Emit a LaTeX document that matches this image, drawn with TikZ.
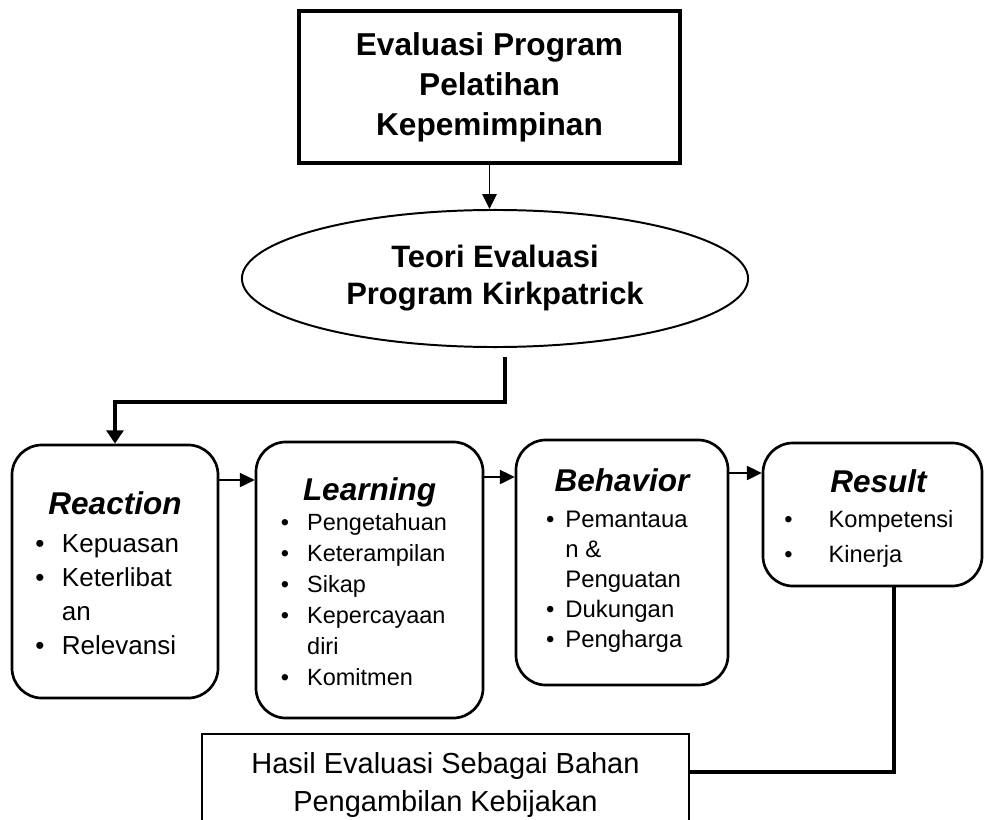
\documentclass[tikz,border=0pt]{standalone}
\usepackage{fontspec}
\setmainfont{Liberation Sans}
\usetikzlibrary{arrows.meta, shapes.geometric, positioning, calc}
\newcommand{\lvltitle}[1]{{\fontsize{22.4}{26}\selectfont\bfseries\itshape #1}}
\tikzset{
  % Thick frame for the programme
  TopB/.style={rectangle,draw,line width=3.4pt,minimum width=9.525cm,
               minimum height=3.8cm,align=center,
               font=\fontsize{22.5}{28.5}\selectfont\bfseries},
  % Theory ellipse
  ThE/.style={ellipse,draw,line width=1.4pt,minimum width=12.65cm,
              minimum height=3.425cm,inner sep=0pt,align=center,
              font=\fontsize{22}{26.3}\selectfont\bfseries},
  % Rounded level box
  LB/.style 2 args={rectangle,rounded corners=0.75cm,draw,line width=1.9pt,
                    minimum width=#1,minimum height=#2,inner sep=0pt},
  % Output box
  OB/.style={rectangle,draw,line width=1.7pt,minimum width=12.175cm,
             minimum height=2.55cm,align=center,
             font=\fontsize{20.6}{27.7}\selectfont},
  % Arrows and lines
  Arr/.style ={-{Triangle[length=10.5pt,width=10pt]},line width=1.4pt},
  TArr/.style={-{Triangle[length=9.5pt,width=12pt]},line width=2.8pt},
  TLn/.style ={line width=2.4pt},
}
\begin{document}
\begin{tikzpicture}[x=0.025cm,y=-0.025cm]
  \useasboundingbox (0,0) rectangle (984,820);
  \node[TopB] at (489.5,87) (top)
        {Evaluasi Program\\ Pelatihan\\ Kepemimpinan};
  \node[ThE] at (495,278.5) (ell)
        {Teori Evaluasi\\ Program Kirkpatrick};
  \draw[Arr] (top.south) -- (top.south |- ell.north);
  % the four levels
  \node[LB={5.15cm}{6.325cm},font=\fontsize{18.5}{24.2}\selectfont]
        at (115,571.5) (react)
        {\begin{tabular}{@{}l@{\hspace{12.4pt}}l@{\hspace{11pt}}}
         \multicolumn{2}{c}{\rule{0pt}{25.4pt}\lvltitle{Reaction}}\\[2.9pt]
         \textbullet & Kepuasan\\
         \textbullet & Keterlibat\\
                     & an\\
         \textbullet & Relevansi
         \end{tabular}};
  \node[LB={5.675cm}{6.9cm},font=\fontsize{16.7}{22}\selectfont]
        at (369.5,580) (learn)
        {\begin{tabular}{@{}l@{\hspace{12.9pt}}l@{\hspace{8pt}}}
         \multicolumn{2}{c}{\rule{0pt}{25.4pt}\lvltitle{Learning}}\\[-0.5pt]
         \textbullet & Pengetahuan\\
         \textbullet & Keterampilan\\
         \textbullet & Sikap\\
         \textbullet & Kepercayaan\\
                     & diri\\
         \textbullet & Komitmen
         \end{tabular}};
  \node[LB={5.3cm}{6.125cm},font=\fontsize{17}{21.3}\selectfont]
        at (622,562.5) (behav)
        {\begin{tabular}{@{}l@{\hspace{7.7pt}}l@{}}
         \multicolumn{2}{c}{\lvltitle{Behavior}}\\[4.3pt]
         \textbullet & Pemantaua\\
                     & n \&\\
                     & Penguatan\\
         \textbullet & Dukungan\\
         \textbullet & Pengharga
         \end{tabular}};
  \node[LB={5.475cm}{3.575cm},font=\fontsize{16.8}{24.9}\selectfont]
        at (872.5,514.5) (result)
        {\begin{tabular}{@{}l@{\hspace{25.6pt}}l@{\hspace{5pt}}}
         \multicolumn{2}{c}{\rule{0pt}{25.9pt}\hspace{8.5pt}\lvltitle{Result}}\\[0.6pt]
         \textbullet & Kompetensi\\
         \textbullet & Kinerja
         \end{tabular}};
  % split from the theory to the first level
  \coordinate (spl) at (505,357);
  \coordinate (elb) at (505,402);
  \draw[TArr] (spl) -- (elb) -| (react.north);
  \draw[Arr] (react.east |- 0,480) -- (learn.west |- 0,480);
  \draw[Arr] (learn.east |- 0,477) -- (behav.west |- 0,477);
  \draw[Arr] (behav.east |- 0,473) -- (result.west |- 0,473);
  % outcome
  \node[OB] at (445.5,785) (out)
        {Hasil Evaluasi Sebagai Bahan\\ Pengambilan Kebijakan};
  \coordinate (rc) at (894,772);
  \draw[TLn] (result.south -| rc) -- (rc) -- (out.east |- rc);
\end{tikzpicture}
\end{document}
